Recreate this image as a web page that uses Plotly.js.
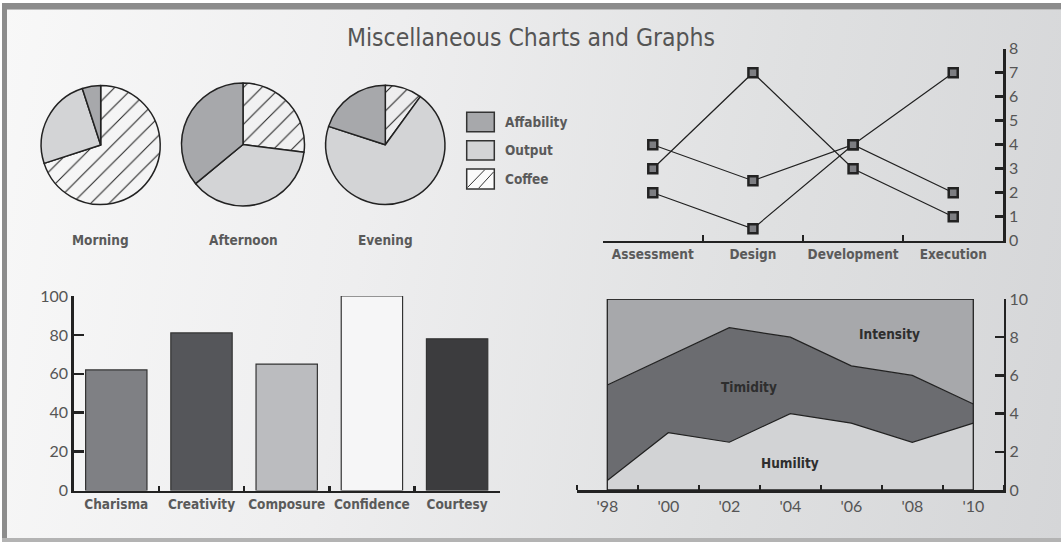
<!DOCTYPE html>
<html>
<head>
<meta charset="utf-8">
<script src="https://cdn.plot.ly/plotly-3.0.1.min.js"></script>
<style>
  html, body { margin: 0; padding: 0; background: #ffffff; }
  #frame { position: absolute; left: 0; top: 0; width: 1061px; height: 542px; overflow: hidden;
           background: linear-gradient(100deg, #f8f8f8 0%, #eeeeef 35%, #dfe0e1 70%, #d5d6d8 100%); }
  #topband { position: absolute; left: 2px; top: 3px; width: 1059px; height: 6px; background: #8c8c8c; }
  #topband2 { position: absolute; left: 2px; top: 9px; width: 1059px; height: 1px; background: #bdbdbd; }
  #leftband { position: absolute; left: 2px; top: 3px; width: 5px; height: 539px; background: #8c8c8c; }
  #whitetop { position: absolute; left: 0; top: 0; width: 1061px; height: 3px; background: #ffffff; }
  #whiteleft { position: absolute; left: 0; top: 0; width: 2px; height: 542px; background: #ffffff; }
  #bottomband { position: absolute; left: 2px; top: 538px; width: 1059px; height: 4px; background: #b3b3b3; }
  #chart { position: absolute; left: 0; top: 0; width: 1061px; height: 542px; }
</style>
</head>
<body>
<div id="frame">
  <div id="whitetop"></div><div id="whiteleft"></div>
  <div id="topband"></div><div id="topband2"></div><div id="leftband"></div><div id="bottomband"></div>
</div>
<div id="chart"></div>
<script>
// ---------------- DATA ----------------
const pieLabels = ['Affability', 'Output', 'Coffee'];
const pieNames = ['Morning', 'Afternoon', 'Evening'];
const morningValues = [5, 25, 70];
const afternoonValues = [36, 37, 27];
const eveningValues = [20, 70, 10];

const stages = ['Assessment', 'Design', 'Development', 'Execution'];
const lineSeriesA = [4, 2.5, 4, 2];
const lineSeriesB = [3, 7, 3, 1];
const lineSeriesC = [2, 0.5, 4, 7];

const traits = ['Charisma', 'Creativity', 'Composure', 'Confidence', 'Courtesy'];
const traitValues = [62, 81, 65, 100, 78];

const years = [1998, 2000, 2002, 2004, 2006, 2008, 2010];
const yearLabels = ["'98", "'00", "'02", "'04", "'06", "'08", "'10"];
const humility = [0.5, 3, 2.5, 4, 3.5, 2.5, 3.5];
const timidity = [5, 4, 6, 4, 3, 3.5, 1];
const intensity = [4.5, 3, 1.5, 2, 3.5, 4, 5.5];
const areaNames = ['Humility', 'Timidity', 'Intensity'];

// ---------------- STYLE ----------------
const W = 1061, H = 542;
const X = px => px / W;
const Y = py => 1 - py / H;
const narrow = "'DejaVu Sans Condensed', 'Liberation Sans Narrow', sans-serif";
const numFont = "Lato, 'Open Sans', sans-serif";
const ink = '#222222';
const labelGray = '#5a5a5a';
const pieColors = ['#a7a8ab', '#d3d4d6', '#fbfbfb'];
const piePatterns = ['', '', '/'];
const barColors = ['#7f8084', '#55565a', '#bbbcbf', '#f6f6f7', '#3c3c3e'];
const areaColors = ['#d2d3d5', '#6b6c70', '#a7a8ab'];
const labelFont = { family: narrow, size: 13.5, color: labelGray, weight: 700 };

function pieDomain(cx, cy, r) {
  return { x: [X(cx - r), X(cx + r)], y: [Y(cy + r), Y(cy - r)] };
}
const rev = a => a.slice().reverse();
const pieGeom = [[100.7, 145, 59.5], [243, 144.5, 61.5], [385.3, 144.8, 59.6]];
const pieValues = [morningValues, afternoonValues, eveningValues];

const traces = [];
pieValues.forEach((vals, i) => {
  // drawn clockwise from 12 o'clock in reversed order = counterclockwise Affability, Output, Coffee
  traces.push({
    type: 'pie', labels: rev(pieLabels), values: rev(vals), sort: false,
    direction: 'clockwise', rotation: 0,
    domain: pieDomain(...pieGeom[i]),
    marker: { colors: rev(pieColors),
              pattern: { shape: rev(piePatterns), fgcolor: '#222', size: 13, solidity: 0.08 },
              line: { color: ink, width: 1.5 } },
    textinfo: 'none', textposition: 'inside', hoverinfo: 'skip', showlegend: false, name: pieNames[i]
  });
});

[lineSeriesA, lineSeriesB, lineSeriesC].forEach((s, i) => {
  traces.push({
    type: 'scatter', mode: 'lines+markers', x: stages, y: s, xaxis: 'x', yaxis: 'y',
    line: { color: ink, width: 1.2 },
    marker: { symbol: 'square', size: 9, color: '#7d7e82', line: { color: ink, width: 2.5 } },
    showlegend: false, hoverinfo: 'skip', cliponaxis: false
  });
});

traces.push({
  type: 'bar', x: traits, y: traitValues, xaxis: 'x2', yaxis: 'y2', width: 0.72,
  marker: { color: barColors, line: { color: '#333', width: 1.2 } },
  showlegend: false, hoverinfo: 'skip'
});

[humility, timidity, intensity].forEach((s, i) => {
  traces.push({
    type: 'scatter', mode: 'lines', x: years, y: s, xaxis: 'x3', yaxis: 'y3',
    stackgroup: 'a', fillcolor: areaColors[i], line: { color: ink, width: 1.2 },
    name: areaNames[i], showlegend: false, hoverinfo: 'skip'
  });
});

const axisLine = { showline: true, linewidth: 2.5, linecolor: ink, showgrid: false, zeroline: false,
                   tickcolor: ink, tickwidth: 2.5, fixedrange: true };
const numTickFont = { family: numFont, size: 16, color: '#555' };

const shapes = [];
shapes.push({ type: 'rect', xref: 'x3', yref: 'y3', x0: years[0], x1: years[years.length - 1], y0: 0, y1: 10,
              line: { color: ink, width: 1.3 }, fillcolor: 'rgba(0,0,0,0)', layer: 'above' });

// legend boxes
const legRows = [[112.3, 131.7], [140.7, 160], [169, 189]];
const legX0 = 466.7, legX1 = 494.3;
const annotations = [];
legRows.forEach((r, i) => {
  shapes.push({ type: 'rect', xref: 'paper', yref: 'paper', x0: X(legX0), x1: X(legX1), y0: Y(r[1]), y1: Y(r[0]),
                fillcolor: pieColors[i], line: { color: '#333', width: 1.5 } });
  annotations.push({ xref: 'paper', yref: 'paper', x: X(503), y: Y((r[0] + r[1]) / 2), xanchor: 'left', yanchor: 'middle',
                     text: pieLabels[i], showarrow: false, font: labelFont });
});
const hb = legRows[2];
const hatch = (x0, y0, x1, y1) => ({ type: 'line', xref: 'paper', yref: 'paper', x0: X(x0), y0: Y(y0), x1: X(x1), y1: Y(y1),
                                    line: { color: '#333', width: 1 } });
shapes.push(hatch(legX0 + 0.8, hb[1] - 1.5, legX0 + 18, hb[0] + 0.8));
shapes.push(hatch(legX0 + 12, hb[1] - 0.8, legX1 - 0.8, hb[0] + 3));

pieNames.forEach((n, i) => {
  annotations.push({ xref: 'paper', yref: 'paper', x: X(pieGeom[i][0]), y: Y(240), xanchor: 'center', yanchor: 'middle',
                     text: n, showarrow: false, font: labelFont });
});

const areaLabelPos = [[2004, 1.4], [2002.64, 5.38], [2007.24, 8.15]];
areaNames.forEach((n, i) => {
  annotations.push({ xref: 'x3', yref: 'y3', x: areaLabelPos[i][0], y: areaLabelPos[i][1], text: n, showarrow: false,
                     font: Object.assign({}, labelFont, { color: '#2e2e2e' }) });
});

const layout = {
  width: W, height: H, margin: { l: 0, r: 0, t: 0, b: 0 },
  paper_bgcolor: 'rgba(0,0,0,0)', plot_bgcolor: 'rgba(0,0,0,0)',
  title: { text: 'Miscellaneous Charts and Graphs', x: X(531), y: Y(37), xanchor: 'center', yanchor: 'middle',
           font: { family: narrow, size: 24.5, color: '#555' } },
  xaxis: Object.assign({}, axisLine, { domain: [X(602.7), X(1003.3)], anchor: 'y', type: 'category', range: [-0.5, 3.5],
           tickson: 'boundaries', ticks: 'inside', ticklen: 6, tickangle: 0, tickfont: labelFont }),
  yaxis: Object.assign({}, axisLine, { domain: [Y(240.7), Y(48.7)], anchor: 'x', side: 'right', range: [0, 8], dtick: 1,
           ticks: 'inside', ticklen: 8, tickfont: numTickFont }),
  xaxis2: Object.assign({}, axisLine, { domain: [X(73.7), X(499.7)], anchor: 'y2', type: 'category', range: [-0.5, 4.5],
           tickson: 'boundaries', ticks: 'inside', ticklen: 5, tickangle: 0, tickfont: labelFont }),
  yaxis2: Object.assign({}, axisLine, { domain: [Y(490.5), Y(296)], anchor: 'x2', range: [0, 100], dtick: 20,
           ticks: 'inside', ticklen: 10, tickfont: numTickFont }),
  xaxis3: Object.assign({}, axisLine, { domain: [X(576.8), X(1003.8)], anchor: 'y3', range: [1997, 2011],
           tickmode: 'array', tickvals: years, ticktext: yearLabels, ticks: '', tickangle: 0, tickfont: numTickFont,
           minor: { tick0: 1997, dtick: 2, ticks: 'inside', ticklen: 5, tickwidth: 2.5, tickcolor: ink, showgrid: false } }),
  yaxis3: Object.assign({}, axisLine, { domain: [Y(490), Y(299)], anchor: 'x3', side: 'right', range: [0, 10], dtick: 2,
           ticks: 'inside', ticklen: 9, tickfont: numTickFont }),
  shapes: shapes,
  annotations: annotations,
  showlegend: false
};

Plotly.newPlot('chart', traces, layout, { staticPlot: true, displayModeBar: false });
</script>
</body>
</html>
